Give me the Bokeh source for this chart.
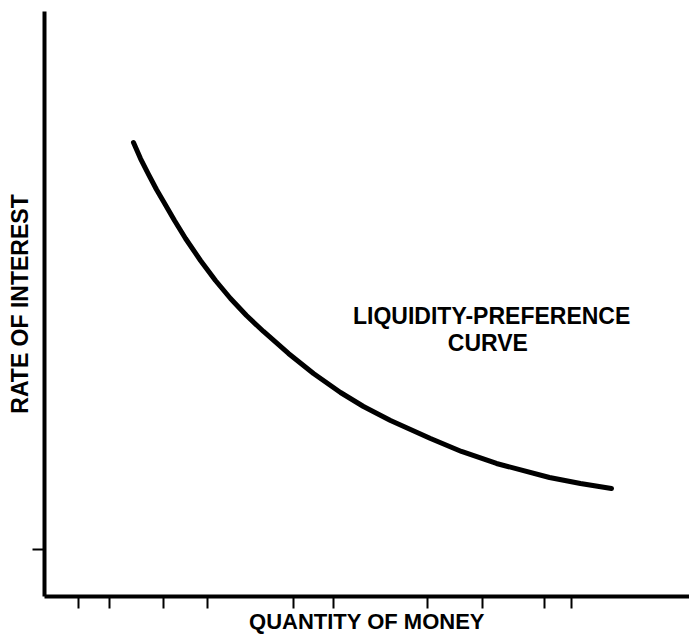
from bokeh.plotting import figure
from bokeh.models import Range1d, FixedTicker, ColumnDataSource
from bokeh.core.properties import value
from bokeh.embed import file_html
from bokeh.resources import INLINE

# Liquidity-preference curve (quantity of money vs rate of interest)
money = [13.97, 15.07, 16.33, 17.58, 18.68, 20.41, 22.14, 24.49, 26.84, 29.20, 31.71, 34.38,
         38.30, 42.23, 46.47, 50.08, 54.32, 60.60, 65.46, 70.96, 79.28, 84.14, 89.01]
interest = [77.61, 74.87, 72.14, 69.57, 67.52, 64.27, 61.20, 57.44, 54.02, 50.94, 48.03, 45.30,
            41.54, 38.12, 34.87, 32.48, 30.09, 27.01, 24.79, 22.74, 20.34, 19.32, 18.46]

x_ticks = [5.3, 10.2, 18.7, 25.6, 39.1, 45.4, 60.1, 68.8, 78.5, 82.7]
y_ticks = [8.0]

x_title = "QUANTITY OF MONEY"
y_title = "RATE OF INTEREST"
curve_label = ["LIQUIDITY-PREFERENCE", "CURVE"]
label_x = [70.2, 69.6]
label_y = [48.0, 43.4]

FONT = "Liberation Sans"

p = figure(width=689, height=638, x_range=Range1d(0, 101.26), y_range=Range1d(0, 100),
           output_backend="svg", toolbar_location=None,
           min_border_left=44, min_border_top=11, min_border_right=0, min_border_bottom=42)
p.outline_line_color = None
p.grid.visible = False
p.background_fill_color = "white"
p.border_fill_color = "white"

for ax in (p.xaxis[0], p.yaxis[0]):
    ax.axis_line_width = 4
    ax.axis_line_color = "black"
    ax.major_tick_line_width = 2
    ax.major_tick_line_color = "black"
    ax.major_tick_in = 0
    ax.major_tick_out = 12
    ax.minor_tick_line_color = None
    ax.major_label_text_font_size = "1px"
    ax.major_label_standoff = 0
    ax.axis_label_text_font = FONT
    ax.axis_label_text_font_style = "bold"
    ax.axis_label_text_color = "black"

p.xaxis[0].ticker = FixedTicker(ticks=x_ticks)
p.yaxis[0].ticker = FixedTicker(ticks=y_ticks)
p.xaxis[0].major_label_overrides = {t: "" for t in x_ticks}
p.yaxis[0].major_label_overrides = {t: "" for t in y_ticks}
p.xaxis[0].axis_label = x_title
p.yaxis[0].axis_label = y_title
p.xaxis[0].axis_label_text_font_size = "22px"
p.yaxis[0].axis_label_text_font_size = "23px"
p.xaxis[0].axis_label_standoff = 0
p.yaxis[0].axis_label_standoff = 0

p.line(money, interest, line_width=5, line_color="black", line_cap="round", line_join="round")

src = ColumnDataSource(dict(x=label_x, y=label_y, t=curve_label))
p.text(x="x", y="y", text="t", source=src, text_font=value(FONT), text_font_style="bold",
       text_font_size="23px", text_align="center", text_baseline="middle", text_color="black")

open("out.html", "w").write(file_html(p, INLINE))
